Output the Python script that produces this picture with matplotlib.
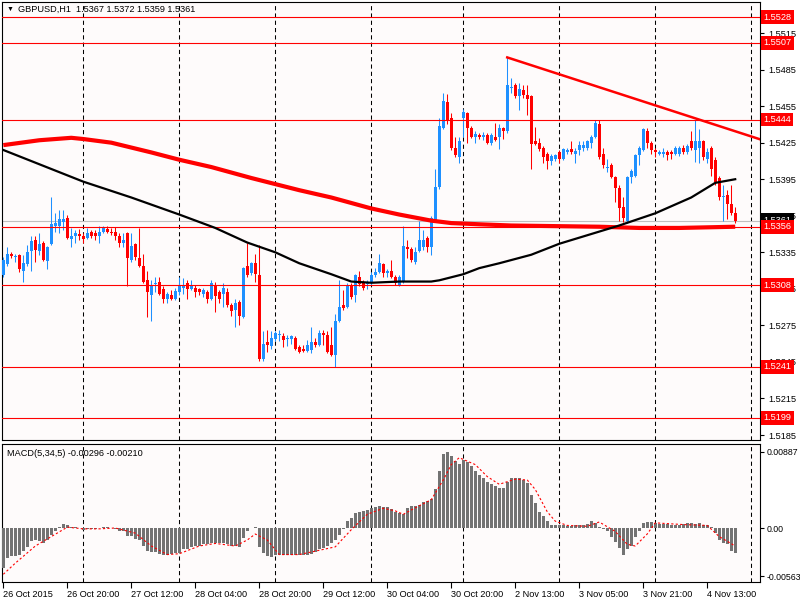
import matplotlib.pyplot as plt
from matplotlib.transforms import blended_transform_factory

plt.rcParams["font.family"] = ["Liberation Sans", "DejaVu Sans"]

# GBPUSD H1 candles, one row per bar: open, high, low, close
ohlc = [
    (1.5316, 1.5331, 1.5315, 1.5329), (1.5325, 1.5339, 1.5324, 1.5334), (1.5334, 1.5335, 1.5330, 1.5332),
    (1.5331, 1.5334, 1.5327, 1.5332), (1.5333, 1.5334, 1.5319, 1.5321), (1.5320, 1.5333, 1.5311, 1.5326),
    (1.5325, 1.5341, 1.5324, 1.5335), (1.5336, 1.5348, 1.5320, 1.5344), (1.5345, 1.5348, 1.5327, 1.5337),
    (1.5336, 1.5351, 1.5333, 1.5342), (1.5343, 1.5344, 1.5328, 1.5329), (1.5328, 1.5340, 1.5321, 1.5339),
    (1.5342, 1.5380, 1.5341, 1.5358), (1.5357, 1.5367, 1.5352, 1.5359), (1.5357, 1.5370, 1.5351, 1.5362),
    (1.5360, 1.5370, 1.5353, 1.5362), (1.5363, 1.5366, 1.5346, 1.5347), (1.5346, 1.5355, 1.5339, 1.5348),
    (1.5348, 1.5353, 1.5343, 1.5351), (1.5350, 1.5354, 1.5345, 1.5348), (1.5348, 1.5351, 1.5343, 1.5346),
    (1.5347, 1.5355, 1.5346, 1.5351), (1.5352, 1.5353, 1.5347, 1.5348), (1.5351, 1.5353, 1.5345, 1.5348),
    (1.5348, 1.5357, 1.5343, 1.5352), (1.5352, 1.5357, 1.5351, 1.5356), (1.5354, 1.5357, 1.5351, 1.5352),
    (1.5352, 1.5355, 1.5349, 1.5351), (1.5352, 1.5356, 1.5345, 1.5348), (1.5348, 1.5351, 1.5339, 1.5343),
    (1.5343, 1.5351, 1.5339, 1.5345), (1.5351, 1.5352, 1.5307, 1.5330), (1.5329, 1.5351, 1.5327, 1.5340),
    (1.5342, 1.5343, 1.5329, 1.5331), (1.5330, 1.5355, 1.5323, 1.5324), (1.5324, 1.5334, 1.5310, 1.5311),
    (1.5312, 1.5320, 1.5282, 1.5302), (1.5300, 1.5312, 1.5279, 1.5308), (1.5309, 1.5315, 1.5302, 1.5310),
    (1.5311, 1.5315, 1.5300, 1.5301), (1.5305, 1.5307, 1.5293, 1.5297), (1.5297, 1.5302, 1.5293, 1.5301),
    (1.5300, 1.5304, 1.5296, 1.5297), (1.5297, 1.5306, 1.5296, 1.5303), (1.5302, 1.5315, 1.5300, 1.5308),
    (1.5306, 1.5314, 1.5301, 1.5308), (1.5310, 1.5312, 1.5297, 1.5305), (1.5305, 1.5312, 1.5304, 1.5307),
    (1.5306, 1.5308, 1.5298, 1.5302), (1.5305, 1.5306, 1.5300, 1.5302), (1.5301, 1.5306, 1.5298, 1.5304),
    (1.5302, 1.5304, 1.5293, 1.5297), (1.5297, 1.5312, 1.5296, 1.5310), (1.5308, 1.5311, 1.5286, 1.5299),
    (1.5302, 1.5304, 1.5293, 1.5297), (1.5301, 1.5310, 1.5290, 1.5306), (1.5302, 1.5306, 1.5290, 1.5292),
    (1.5292, 1.5293, 1.5283, 1.5287), (1.5288, 1.5297, 1.5274, 1.5293), (1.5294, 1.5296, 1.5275, 1.5283),
    (1.5282, 1.5323, 1.5281, 1.5322), (1.5324, 1.5343, 1.5315, 1.5316), (1.5318, 1.5327, 1.5316, 1.5326),
    (1.5326, 1.5334, 1.5311, 1.5317), (1.5316, 1.5341, 1.5246, 1.5247), (1.5247, 1.5270, 1.5246, 1.5260),
    (1.5261, 1.5271, 1.5253, 1.5259), (1.5258, 1.5270, 1.5256, 1.5265), (1.5264, 1.5270, 1.5262, 1.5269),
    (1.5267, 1.5271, 1.5262, 1.5268), (1.5266, 1.5269, 1.5257, 1.5263), (1.5264, 1.5267, 1.5258, 1.5265),
    (1.5264, 1.5267, 1.5260, 1.5266), (1.5265, 1.5266, 1.5255, 1.5256), (1.5257, 1.5259, 1.5252, 1.5253),
    (1.5256, 1.5259, 1.5253, 1.5254), (1.5254, 1.5263, 1.5253, 1.5259), (1.5255, 1.5274, 1.5252, 1.5261),
    (1.5261, 1.5265, 1.5257, 1.5259), (1.5259, 1.5271, 1.5258, 1.5269), (1.5269, 1.5271, 1.5259, 1.5267),
    (1.5267, 1.5270, 1.5252, 1.5253), (1.5259, 1.5274, 1.5250, 1.5251), (1.5251, 1.5284, 1.5241, 1.5279),
    (1.5279, 1.5312, 1.5278, 1.5290), (1.5292, 1.5304, 1.5288, 1.5289), (1.5290, 1.5310, 1.5289, 1.5307),
    (1.5308, 1.5310, 1.5297, 1.5298), (1.5300, 1.5317, 1.5294, 1.5316), (1.5315, 1.5320, 1.5307, 1.5309),
    (1.5311, 1.5312, 1.5304, 1.5306), (1.5309, 1.5312, 1.5305, 1.5311), (1.5310, 1.5319, 1.5308, 1.5316),
    (1.5316, 1.5322, 1.5315, 1.5319), (1.5319, 1.5334, 1.5318, 1.5326), (1.5325, 1.5326, 1.5315, 1.5318),
    (1.5318, 1.5321, 1.5315, 1.5320), (1.5320, 1.5329, 1.5314, 1.5315), (1.5315, 1.5316, 1.5308, 1.5310),
    (1.5308, 1.5316, 1.5307, 1.5315), (1.5311, 1.5357, 1.5310, 1.5340), (1.5339, 1.5345, 1.5330, 1.5338),
    (1.5338, 1.5339, 1.5327, 1.5329), (1.5327, 1.5339, 1.5325, 1.5335), (1.5336, 1.5361, 1.5335, 1.5345),
    (1.5339, 1.5353, 1.5337, 1.5345), (1.5347, 1.5348, 1.5335, 1.5339), (1.5339, 1.5365, 1.5333, 1.5363),
    (1.5361, 1.5403, 1.5360, 1.5389), (1.5389, 1.5445, 1.5387, 1.5439), (1.5437, 1.5466, 1.5436, 1.5459),
    (1.5458, 1.5465, 1.5440, 1.5443), (1.5445, 1.5449, 1.5419, 1.5421), (1.5421, 1.5430, 1.5413, 1.5415),
    (1.5413, 1.5430, 1.5408, 1.5426), (1.5445, 1.5453, 1.5430, 1.5450), (1.5449, 1.5450, 1.5425, 1.5437),
    (1.5437, 1.5439, 1.5429, 1.5430), (1.5430, 1.5435, 1.5425, 1.5432), (1.5431, 1.5433, 1.5428, 1.5430),
    (1.5430, 1.5434, 1.5427, 1.5431), (1.5431, 1.5433, 1.5424, 1.5425), (1.5425, 1.5433, 1.5423, 1.5431),
    (1.5430, 1.5441, 1.5426, 1.5427), (1.5430, 1.5440, 1.5420, 1.5437), (1.5437, 1.5438, 1.5428, 1.5435),
    (1.5435, 1.5495, 1.5433, 1.5472), (1.5470, 1.5478, 1.5466, 1.5471), (1.5472, 1.5474, 1.5462, 1.5463),
    (1.5463, 1.5474, 1.5452, 1.5469), (1.5468, 1.5472, 1.5462, 1.5464), (1.5464, 1.5472, 1.5448, 1.5461),
    (1.5463, 1.5464, 1.5403, 1.5424), (1.5426, 1.5438, 1.5423, 1.5424), (1.5425, 1.5429, 1.5418, 1.5420),
    (1.5421, 1.5422, 1.5408, 1.5413), (1.5416, 1.5417, 1.5403, 1.5410), (1.5410, 1.5416, 1.5407, 1.5414),
    (1.5412, 1.5416, 1.5410, 1.5415), (1.5417, 1.5419, 1.5408, 1.5412), (1.5412, 1.5421, 1.5411, 1.5420),
    (1.5417, 1.5421, 1.5416, 1.5419), (1.5420, 1.5426, 1.5416, 1.5417), (1.5416, 1.5421, 1.5408, 1.5418),
    (1.5419, 1.5426, 1.5415, 1.5423), (1.5421, 1.5426, 1.5418, 1.5423), (1.5421, 1.5427, 1.5419, 1.5426),
    (1.5425, 1.5431, 1.5421, 1.5430), (1.5430, 1.5444, 1.5429, 1.5441), (1.5440, 1.5444, 1.5412, 1.5413),
    (1.5416, 1.5421, 1.5404, 1.5407), (1.5404, 1.5412, 1.5401, 1.5405), (1.5407, 1.5408, 1.5396, 1.5397),
    (1.5397, 1.5398, 1.5376, 1.5388), (1.5388, 1.5390, 1.5361, 1.5371), (1.5372, 1.5380, 1.5360, 1.5363),
    (1.5361, 1.5398, 1.5359, 1.5397), (1.5397, 1.5403, 1.5392, 1.5402), (1.5398, 1.5416, 1.5397, 1.5415),
    (1.5415, 1.5422, 1.5407, 1.5421), (1.5419, 1.5437, 1.5418, 1.5436), (1.5435, 1.5437, 1.5421, 1.5425),
    (1.5425, 1.5426, 1.5416, 1.5419), (1.5419, 1.5421, 1.5413, 1.5417), (1.5416, 1.5419, 1.5415, 1.5417),
    (1.5416, 1.5421, 1.5413, 1.5417), (1.5417, 1.5419, 1.5411, 1.5415), (1.5417, 1.5419, 1.5412, 1.5416),
    (1.5416, 1.5422, 1.5415, 1.5421), (1.5416, 1.5422, 1.5414, 1.5421), (1.5421, 1.5423, 1.5416, 1.5417),
    (1.5417, 1.5424, 1.5416, 1.5422), (1.5426, 1.5435, 1.5419, 1.5421), (1.5419, 1.5444, 1.5409, 1.5426),
    (1.5421, 1.5436, 1.5408, 1.5426), (1.5426, 1.5427, 1.5411, 1.5413), (1.5412, 1.5421, 1.5408, 1.5417),
    (1.5421, 1.5422, 1.5398, 1.5403), (1.5411, 1.5413, 1.5390, 1.5393), (1.5396, 1.5398, 1.5378, 1.5380),
    (1.5380, 1.5390, 1.5361, 1.5381), (1.5382, 1.5386, 1.5362, 1.5375), (1.5375, 1.5390, 1.5366, 1.5367),
    (1.5367, 1.5372, 1.5359, 1.5361),
]

# moving averages (bar index, price)
black_ma_bars = [0, 20, 32, 44, 53, 61, 68, 74, 82, 87, 92, 99, 107, 109, 115, 119, 124, 132,
                 139, 147, 154, 163, 172, 178, 183]
black_ma_vals = [1.5419, 1.5393, 1.5380, 1.5366, 1.5355, 1.5343, 1.5335, 1.5326, 1.5317, 1.5311,
                 1.5310, 1.5311, 1.5311, 1.5312, 1.5317, 1.5322, 1.5326, 1.5333, 1.5342, 1.5350,
                 1.5357, 1.5367, 1.5380, 1.5392, 1.5395]
red_ma_bars = [0, 9, 17, 20, 27, 37, 44, 52, 62, 68, 74, 82, 92, 99, 107, 112, 119, 127, 149,
               159, 169, 183]
red_ma_vals = [1.5423, 1.5427, 1.5429, 1.5428, 1.5425, 1.5417, 1.5411, 1.5405, 1.5396, 1.5391,
               1.5386, 1.5380, 1.5371, 1.5366, 1.5361, 1.5359, 1.5358, 1.5357, 1.5356, 1.5355,
               1.5355, 1.5356]

trend_bars = [126, 189]
trend_vals = [1.5495, 1.5428]

levels = [1.5528, 1.5507, 1.5444, 1.5356, 1.5308, 1.5241, 1.5199]
last_price = 1.5361
price_ticks = [1.5185, 1.5215, 1.5245, 1.5275, 1.5305, 1.5335, 1.5365, 1.5395, 1.5425,
               1.5455, 1.5485, 1.5515]

macd_hist = [
    -0.00467, -0.0035, -0.00323, -0.00323, -0.0031, -0.0027, -0.0022, -0.00156, -0.00136, -0.00156,
    -0.0017, -0.00136, -0.00078, -0.0003, 0.0001, 0.0005, 0.0003, 0.0001, 0.0001, -0.00005,
    -0.0002, -0.0001, -0.0001, -0.0001, 0.0, 0.0001, 0.0001, 0.0, -0.0001, -0.0003,
    -0.0003, -0.0009, -0.0009, -0.0013, -0.0014, -0.0021, -0.0027, -0.0028, -0.0028, -0.003,
    -0.0031, -0.0031, -0.003, -0.0029, -0.0029, -0.0025, -0.0024, -0.0022, -0.0021, -0.0021,
    -0.0019, -0.0019, -0.00175, -0.00175, -0.0018, -0.0018, -0.0019, -0.0021, -0.0021, -0.0022,
    -0.0012, -0.0004, 0.0, 0.0001, -0.0022, -0.0029, -0.0033, -0.0034, -0.0032, -0.0032,
    -0.0032, -0.0032, -0.0032, -0.0031, -0.0032, -0.0031, -0.0031, -0.003, -0.0028, -0.0025,
    -0.0023, -0.0021, -0.0018, -0.0014, -0.0008, -0.0001, 0.0008, 0.0012, 0.0018, 0.0019,
    0.002, 0.0021, 0.0023, 0.0024, 0.0026, 0.0025, 0.0024, 0.0022, 0.0019, 0.0017,
    0.0016, 0.0023, 0.0026, 0.0026, 0.0027, 0.003, 0.0032, 0.0034, 0.0045, 0.0066,
    0.0086, 0.0089, 0.0084, 0.0078, 0.0075, 0.0079, 0.0077, 0.0072, 0.0067, 0.0062,
    0.0058, 0.0054, 0.0051, 0.0049, 0.0047, 0.0047, 0.0054, 0.0058, 0.0058, 0.0058,
    0.0056, 0.0053, 0.0038, 0.0029, 0.0019, 0.0014, 0.0008, 0.0004, 0.0003, 0.0003,
    0.0003, 0.0002, 0.0002, 0.0003, 0.0003, 0.0004, 0.0005, 0.0008, 0.0006, 0.0001,
    -0.0001, -0.0004, -0.001, -0.0016, -0.0023, -0.0031, -0.0025, -0.0021, -0.0011, -0.0004,
    0.0006, 0.0007, 0.0007, 0.0006, 0.0005, 0.0005, 0.0005, 0.0003, 0.0004, 0.0004,
    0.0005, 0.0006, 0.0006, 0.0005, 0.0006, 0.0004, 0.0003, 0.0001, -0.0006, -0.0014,
    -0.0018, -0.0019, -0.0027, -0.00296,
]
signal_bars = [0, 3, 8, 12, 16, 20, 24, 28, 33, 37, 41, 44, 49, 53, 58, 61, 63, 66, 69, 74, 78,
               83, 87, 91, 95, 98, 100, 104, 107, 110, 112, 114, 118, 121, 124, 128, 131, 133,
               136, 138, 141, 146, 149, 153, 156, 158, 161, 163, 170, 176, 179, 183]
signal_vals = [-0.0054, -0.0041, -0.0021, -0.001, 0.0001, -0.0001, -0.0001, 0.0, -0.0006,
               -0.0021, -0.0031, -0.003, -0.0021, -0.0018, -0.0021, -0.0014, -0.0007, -0.0014,
               -0.0031, -0.0031, -0.0027, -0.0022, -0.0002, 0.0016, 0.0023, 0.0020, 0.0016,
               0.0026, 0.0033, 0.0056, 0.0074, 0.0082, 0.0074, 0.006, 0.0051, 0.0057, 0.0056,
               0.0045, 0.0019, 0.0008, 0.0003, 0.0002, 0.0007, -0.0004, -0.0019, -0.0021,
               -0.0007, 0.0006, 0.0004, 0.0003, -0.001, -0.0021]
macd_ticks = [-0.00563, 0.0, 0.00887]
macd_tick_labels = ["-0.00563", "0.00", "0.00887"]

day_bars = [20, 44, 68, 92, 115, 139, 163, 187]
label_bars = [0, 16, 32, 48, 64, 80, 96, 112, 128, 144, 160, 176]
time_labels = ["26 Oct 2015", "26 Oct 20:00", "27 Oct 12:00", "28 Oct 04:00", "28 Oct 20:00",
               "29 Oct 12:00", "30 Oct 04:00", "30 Oct 20:00", "2 Nov 13:00", "3 Nov 05:00",
               "3 Nov 21:00", "4 Nov 13:00"]

BLUE = "#1e90ff"
RED = "#ff0000"
BG = "#fefbfb"
FS = 6.6

fig = plt.figure(figsize=(8, 6), dpi=100, facecolor="white")
ax = fig.add_axes([2 / 800, 1 - 440 / 600, 758 / 800, 438 / 600], facecolor=BG)
ax2 = fig.add_axes([2 / 800, 1 - 582 / 600, 758 / 800, 138 / 600], facecolor=BG)

xmin, xmax = -0.33, 189.2
for a in (ax, ax2):
    a.set_xlim(xmin, xmax)
    for s in a.spines.values():
        s.set_color("black")
        s.set_linewidth(0.8)
    for d in day_bars:
        a.axvline(d, color="black", lw=0.75, ls=(0, (4, 3)), zorder=1)

# candles
for i, (o, h, l, c) in enumerate(ohlc):
    col = BLUE if c >= o else RED
    ax.vlines(i, l, h, color=col, lw=0.75, zorder=3)
    ax.bar(i, max(abs(c - o), 0.00006), bottom=min(o, c), width=0.72, color=col, lw=0, zorder=3)

ax.axhline(last_price, color="#c0c0c0", lw=0.8, zorder=2)
for lvl in levels:
    ax.axhline(lvl, color=RED, lw=0.8, zorder=4)

ax.plot(red_ma_bars, red_ma_vals, color=RED, lw=3, zorder=5, solid_capstyle="butt")
ax.plot(black_ma_bars, black_ma_vals, color="black", lw=1.6, zorder=6)
ax.plot(trend_bars, trend_vals, color=RED, lw=1.8, zorder=5)

ax.set_ylim(1.51809, 1.55405)
ax.set_xticks([])
ax.yaxis.tick_right()
ax.set_yticks(price_ticks)
ax.set_yticklabels([f"{t:.4f}" for t in price_ticks])
ax.tick_params(axis="y", direction="out", length=3, width=0.8, pad=3, labelsize=FS)

tr = blended_transform_factory(ax.transAxes, ax.transData)
# current price box sits under the red level boxes, as in the terminal
ax.text(1.0045, last_price + 0.00005, f"{last_price:.4f}", transform=tr, color="white",
        fontsize=FS, va="center", ha="left", zorder=9, clip_on=False,
        bbox=dict(boxstyle="square,pad=0.25", fc="black", ec="none"))
for lvl in levels:
    ax.text(1.0045, lvl, f"{lvl:.4f}", transform=tr, color="white", fontsize=FS, va="center",
            ha="left", zorder=10, clip_on=False,
            bbox=dict(boxstyle="square,pad=0.25", fc=RED, ec="none"))

fig.text(7 / 800, 1 - 9 / 600, "▼", fontsize=5, va="center", ha="left")
fig.text(18 / 800, 1 - 9 / 600, "GBPUSD,H1  1.5367 1.5372 1.5359 1.5361", fontsize=FS,
         va="center", ha="left")

# MACD panel
ax2.bar(range(len(macd_hist)), macd_hist, width=0.72, color="#737373", lw=0, zorder=3)
ax2.plot(signal_bars, signal_vals, color=RED, lw=0.8, ls=(0, (2, 2)), zorder=4)
ax2.set_ylim(-0.0063, 0.0098)
ax2.yaxis.tick_right()
ax2.set_yticks(macd_ticks)
ax2.set_yticklabels(macd_tick_labels)
ax2.tick_params(axis="y", direction="out", length=3, width=0.8, pad=1.5, labelsize=6.3)
ax2.set_xticks(label_bars)
ax2.set_xticklabels(time_labels, ha="left")
ax2.tick_params(axis="x", direction="out", length=4, width=0.8, pad=2, labelsize=FS)
fig.text(7 / 800, 1 - 454 / 600, "MACD(5,34,5) -0.00296 -0.00210", fontsize=FS,
         va="center", ha="left")

fig.savefig("out.png", dpi=100, facecolor="white")
